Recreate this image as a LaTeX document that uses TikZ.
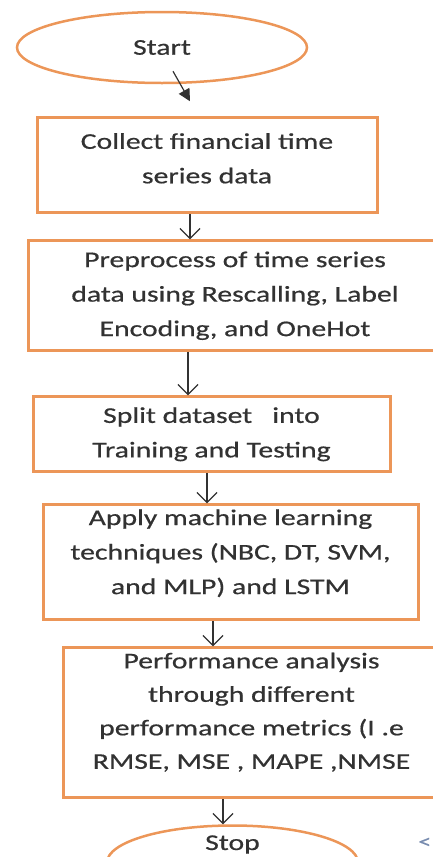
\documentclass[tikz,border=0pt]{standalone}
\usepackage{fontspec}
\setmainfont{Carlito}[FakeStretch=1.32, FakeBold=0.6]
\usepackage{tikz}
\usetikzlibrary{arrows.meta, positioning, shapes.geometric}

\definecolor{boxorange}{RGB}{236,150,88}
\definecolor{inkgray}{RGB}{50,50,50}
\definecolor{markblue}{RGB}{120,140,175}

\begin{document}
\begin{tikzpicture}[
		x=1pt, y=1pt,
		terminal/.style={
			ellipse,
			draw=boxorange,
			line width=2.5pt,
			text=inkgray,
			font=\fontsize{22.5}{34.5}\selectfont,
			inner sep=0pt
		},
		stepbox/.style={
			rectangle,
			draw=boxorange,
			line width=3pt,
			text=inkgray,
			font=\fontsize{22.5}{34.5}\selectfont,
			align=center,
			inner sep=0pt
		},
		arrow/.style={
			line width=1.2pt,
			draw=inkgray,
			-{Straight Barb[length=10pt, width=20pt]},
		}
	]
	
	\useasboundingbox (0,0) rectangle (433,-857);
	\clip (0,0) rectangle (433,-857);
	
	\node[terminal, minimum width=290pt, minimum height=71pt] (start) at (162,-47.5) {Start};
	\node[stepbox, minimum width=340pt, minimum height=95pt, text depth=14pt, below=32pt of start, xshift=45pt] (collect) {Collect financial time\\series data};
	\node[stepbox, minimum width=414pt, minimum height=110pt, below=25pt of collect, xshift=28pt] (prep) {Preprocess of time series\\data using Rescalling, Label\\Encoding, and OneHot};
	\node[stepbox, minimum width=357pt, minimum height=75pt, below=43pt of prep, xshift=-23.5pt] (split) {Split dataset\ \ \ into\\Training and Testing};
	\node[stepbox, minimum width=375pt, minimum height=115pt, text depth=21pt, below=30pt of split, xshift=19pt] (apply) {Apply machine learning\\techniques (NBC, DT, SVM,\\and MLP) and LSTM};
	\node[stepbox, minimum width=377pt, minimum height=150pt, text depth=24pt, below=25pt of apply, xshift=21pt, font=\fontsize{22.5}{33.5}\selectfont] (perf) {Performance analysis\\through different\\performance metrics (I .e\\RMSE, MSE , MAPE ,NMSE};
	\node[terminal, minimum width=251pt, minimum height=74pt, below=25pt of perf, xshift=-19pt] (stop) {};
	\node[text=inkgray, font=\fontsize{22.5}{34.5}\selectfont, anchor=base, inner sep=0pt] (stoptext) at (232.5,-850) {Stop};
	\node[text=markblue, font=\fontsize{20}{20}\selectfont, anchor=west, inner sep=0pt] (mark) at (418,-843) {<};
	
	\draw[arrow, -{Triangle[length=12pt, width=12pt]}] ([xshift=11pt, yshift=13pt]start.south) -- ([xshift=-17pt, yshift=15pt]collect.north);
	\draw[arrow] ([xshift=-17pt]collect.south) -- ([xshift=-17pt]collect.south |- prep.north);
	\draw[arrow] ([xshift=-47pt]prep.south) -- ([xshift=-47pt]prep.south |- split.north);
	\draw[arrow] ([xshift=-4.5pt]split.south) -- ([xshift=-4.5pt]split.south |- apply.north);
	\draw[arrow] ([xshift=-17.5pt]apply.south) -- ([xshift=-17.5pt]apply.south |- perf.north);
	\draw[arrow] ([xshift=-28.5pt]perf.south) -- ([xshift=-28.5pt]perf.south |- stop.north);
	
\end{tikzpicture}
\end{document}
